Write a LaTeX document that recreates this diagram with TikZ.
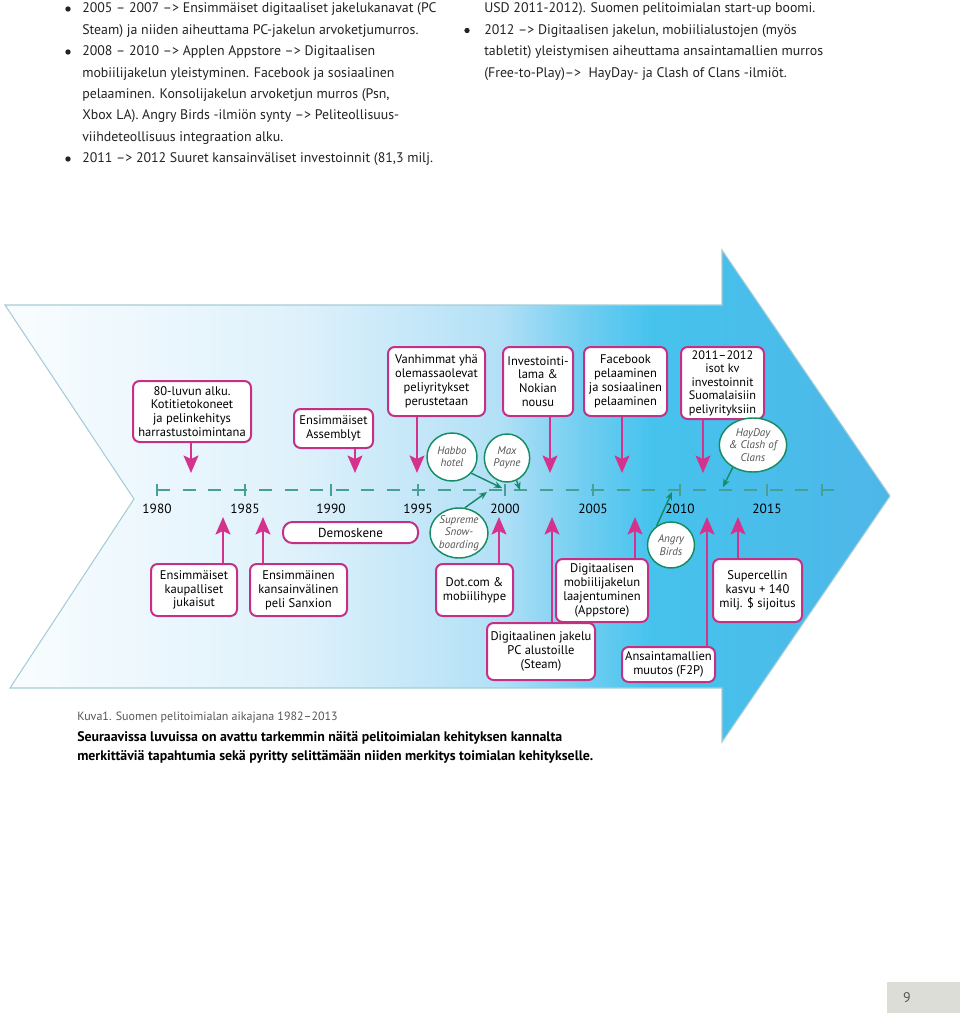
\documentclass[tikz,border=0pt]{standalone}
\usepackage{fontspec}
\setmainfont{PT Sans}
\usetikzlibrary{arrows.meta,shapes.geometric}
\definecolor{mag}{RGB}{196,48,134}
\definecolor{magarr}{RGB}{212,50,140}
\definecolor{grn}{RGB}{22,140,100}
\definecolor{axisc}{RGB}{70,160,150}
\definecolor{outl}{RGB}{165,205,215}
\definecolor{txtgray}{RGB}{85,85,85}
\definecolor{bodytxt}{RGB}{35,35,35}
\definecolor{pagegray}{RGB}{221,221,216}
\definecolor{ca}{RGB}{250,253,255}
\definecolor{cb}{RGB}{222,241,251}
\definecolor{cc}{RGB}{178,224,246}
\definecolor{cd}{RGB}{115,206,241}
\definecolor{ce}{RGB}{70,195,237}
\definecolor{cf}{RGB}{78,182,232}
\tikzset{
  pbox/.style={draw=mag, line width=1.5pt, rounded corners=5pt, fill=white, align=center, inner sep=0pt, font=\fontsize{9.4}{10.4}\selectfont, text=black},
  gcirc/.style={ellipse, draw=grn, line width=1.1pt, fill=white, align=center, inner sep=0pt, font=\fontsize{8.3}{9.2}\selectfont\itshape, text=txtgray},
  parr/.style={draw=magarr, line width=2.2pt, -{Stealth[length=13pt,width=11pt,inset=2.5pt]}},
  garr/.style={draw=grn, line width=1.1pt, -{Stealth[length=6pt,width=5pt]}},
  axisline/.style={draw=axisc, line width=0.9pt, dash pattern=on 9.75pt off 9.4pt},
  tickmark/.style={draw=axisc, line width=0.8pt},
  yearlbl/.style={font=\fontsize{10}{11}\selectfont, text=black, inner sep=0pt},
  toptext/.style={anchor=base west, inner sep=0pt, font=\fontsize{10.4}{12}\selectfont, text=bodytxt},
  bulletdot/.style={fill=bodytxt, draw=none, circle, inner sep=0pt, minimum size=4pt},
  captxt/.style={anchor=base west, inner sep=0pt, font=\fontsize{9}{11}\selectfont, text=txtgray},
  boldtxt/.style={anchor=base west, inner sep=0pt, font=\fontsize{10.4}{12}\selectfont\bfseries, text=black}
}
\begin{document}
\begin{tikzpicture}[x=0.75pt,y=-0.75pt]
\useasboundingbox (0,0) rectangle (960,1013);
\fill[white] (0,0) rectangle (960,1013);

% big arrow
\begin{scope}
\clip (5,305) -- (722,305) -- (722,250) -- (890,496) -- (722,742) -- (722,688) -- (10,688) -- (134,499) -- cycle;
\shade[left color=ca,right color=cb] (0,240) rectangle (301,750);
\shade[left color=cb,right color=cc] (300,240) rectangle (501,750);
\shade[left color=cc,right color=cd] (500,240) rectangle (581,750);
\shade[left color=cd,right color=ce] (580,240) rectangle (651,750);
\shade[left color=ce,right color=cf] (650,240) rectangle (900,750);
\end{scope}
\draw[outl, line width=0.8pt] (5,305) -- (722,305) -- (722,250) -- (890,496) -- (722,742) -- (722,688) -- (10,688) -- (134,499) -- cycle;

% top text
\node[bulletdot] (b1) at (68,9) {};
\node[toptext] (l1) at (82,13) {2005 – 2007 –> Ensimmäiset digitaaliset jakelukanavat (PC};
\node[toptext] (l2) at (82,34.4) {Steam) ja niiden aiheuttama PC-jakelun arvoketjumurros.};
\node[bulletdot] (b2) at (68,52) {};
\node[toptext] (l3) at (82,55.8) {2008 – 2010 –> Applen Appstore –> Digitaalisen};
\node[toptext] (l4) at (82,77.2) {mobiilijakelun yleistyminen. Facebook ja sosiaalinen};
\node[toptext] (l5) at (82,98.6) {pelaaminen. Konsolijakelun arvoketjun murros (Psn,};
\node[toptext] (l6) at (82,120) {Xbox LA). Angry Birds -ilmiön synty –> Peliteollisuus-};
\node[toptext] (l7) at (82,141.4) {viihdeteollisuus integraation alku.};
\node[bulletdot] (b3) at (68,159) {};
\node[toptext] (l8) at (82,162.8) {2011 –> 2012 Suuret kansainväliset investoinnit (81,3 milj.};

\node[toptext] (r1) at (484,13) {USD 2011-2012). Suomen pelitoimialan start-up boomi.};
\node[bulletdot] (b4) at (467,30.5) {};
\node[toptext] (r2) at (484,34.4) {2012 –> Digitaalisen jakelun, mobiilialustojen (myös};
\node[toptext] (r3) at (484,55.8) {tabletit) yleistymisen aiheuttama ansaintamallien murros};
\node[toptext] (r4) at (484,77.2) {(Free-to-Play)–>\ \ HayDay- ja Clash of Clans -ilmiöt.};

% axis
\draw[axisline] (157,490) -- (838,490);
\foreach \xx in {157,245,331,418,505,593,680,767,822}
  \draw[tickmark] (\xx,484) -- (\xx,496);
\node[yearlbl] (y1980) at (157,509) {1980};
\node[yearlbl] (y1985) at (245,509) {1985};
\node[yearlbl] (y1990) at (331,509) {1990};
\node[yearlbl] (y1995) at (418,509) {1995};
\node[yearlbl] (y2000) at (505,509) {2000};
\node[yearlbl] (y2005) at (593,509) {2005};
\node[yearlbl] (y2010) at (680,509) {2010};
\node[yearlbl] (y2015) at (767,509) {2015};

% arrow tip coordinates
\coordinate (tA) at (191,473);
\coordinate (tB) at (355,473);
\coordinate (tC) at (417,473);
\coordinate (tD) at (550,473);
\coordinate (tE) at (622,473);
\coordinate (tF) at (703,473);
\coordinate (tG) at (223,517);
\coordinate (tH) at (263,517);
\coordinate (tI) at (499,517);
\coordinate (tJ) at (635,517);
\coordinate (tK) at (738,517);
\coordinate (tL) at (552,517);
\coordinate (tM) at (707,517);

% upper boxes
\node[pbox, minimum width=88.5pt, minimum height=45.75pt] (A) at (192,411.5) {80-luvun alku.\\Kotitietokoneet\\ja pelinkehitys\\harrastustoimintana};
\node[pbox, minimum width=59.25pt, minimum height=29.25pt] (B) at (333.5,428.5) {Ensimmäiset\\Assemblyt};
\node[pbox, minimum width=72.75pt, minimum height=51.75pt] (C) at (436.5,381.5) {Vanhimmat yhä\\olemassaolevat\\peliyritykset\\perustetaan};
\node[pbox, minimum width=52.5pt, minimum height=51.75pt] (D) at (538,381.5) {Investointi-\\lama \&\\Nokian\\nousu};
\node[pbox, minimum width=62.25pt, minimum height=51.75pt] (E) at (625.5,381.5) {Facebook\\pelaaminen\\ja sosiaalinen\\pelaaminen};
\node[pbox, minimum width=62.25pt, minimum height=54pt, font=\fontsize{9.2}{10.1}\selectfont] (F) at (722.5,383) {2011–2012\\isot kv\\investoinnit\\Suomalaisiin\\peliyrityksiin};

% lower boxes
\node[pbox, rounded corners=7pt, minimum width=101.25pt, minimum height=15.75pt, font=\fontsize{9.8}{10.5}\selectfont] (Demo) at (350.5,532.5) {Demoskene};
\node[pbox, minimum width=64.5pt, minimum height=39pt] (G) at (194,590) {Ensimmäiset\\kaupalliset\\jukaisut};
\node[pbox, minimum width=72.75pt, minimum height=39pt] (H) at (298.5,590) {Ensimmäinen\\kansainvälinen\\peli Sanxion};
\node[pbox, minimum width=57.75pt, minimum height=39pt] (I) at (474.5,590) {Dot.com \&\\mobiilihype};
\node[pbox, minimum width=69pt, minimum height=47.25pt] (J) at (602,590.5) {Digitaalisen\\mobiilijakelun\\laajentuminen\\(Appstore)};
\node[pbox, minimum width=66.75pt, minimum height=47.25pt] (K) at (757.5,590.5) {Supercellin\\kasvu + 140\\milj. \$ sijoitus};
\node[pbox, minimum width=81pt, minimum height=42.75pt] (L) at (541,651.5) {Digitaalinen jakelu\\PC alustoille\\(Steam)};
\node[pbox, minimum width=69.75pt, minimum height=26.25pt] (M) at (668.5,664.5) {Ansaintamallien\\muutos (F2P)};

% magenta arrows
\draw[parr] (A.south -| tA) -- (tA);
\draw[parr] (B.south -| tB) -- (tB);
\draw[parr] (C.south -| tC) -- (tC);
\draw[parr] (D.south -| tD) -- (tD);
\draw[parr] (E.south -| tE) -- (tE);
\draw[parr] (F.south -| tF) -- (tF);
\draw[parr] (G.north -| tG) -- (tG);
\draw[parr] (H.north -| tH) -- (tH);
\draw[parr] (I.north -| tI) -- (tI);
\draw[parr] (J.north -| tJ) -- (tJ);
\draw[parr] (K.north -| tK) -- (tK);
\draw[parr] (L.north -| tL) -- (tL);
\draw[parr] (M.north -| tM) -- (tM);

% green circles
\node[gcirc, minimum width=37.5pt, minimum height=36pt] (habbo) at (452,457) {Habbo\\hotel};
\node[gcirc, minimum width=34pt, minimum height=36pt] (max) at (507,458) {Max\\Payne};
\node[gcirc, minimum width=43.5pt, minimum height=37.5pt] (supreme) at (459,533) {Supreme\\Snow-\\boarding};
\node[gcirc, minimum width=35.25pt, minimum height=34.5pt] (angry) at (671,545) {Angry\\Birds};
\node[gcirc, minimum width=45pt, minimum height=40.5pt] (hay) at (753,445) {HayDay\\\& Clash of\\Clans};

\coordinate (gHabbo) at (502,488);
\coordinate (gMax) at (520,490);
\coordinate (gSup) at (487,492);
\coordinate (gAngry) at (672,492);
\coordinate (gHay) at (723,487);
\draw[garr] (habbo.320) -- (gHabbo);
\draw[garr] (max.293) -- (gMax);
\draw[garr] (supreme.77) -- (gSup);
\draw[garr] (angry.127) -- (gAngry);
\draw[garr] (hay.228) -- (gHay);

% caption
\node[captxt] (cap) at (77,720) {Kuva1. Suomen pelitoimialan aikajana 1982–2013};
\node[boldtxt] (bt1) at (77,741) {Seuraavissa luvuissa on avattu tarkemmin näitä pelitoimialan kehityksen kannalta};
\node[boldtxt] (bt2) at (77,760) {merkittäviä tapahtumia sekä pyritty selittämään niiden merkitys toimialan kehitykselle.};

% page number
\fill[pagegray] (887,982) rectangle (960,1013);
\node[inner sep=0pt, font=\fontsize{10.5}{12}\selectfont, text=txtgray] (pnum) at (907,998) {9};
\end{tikzpicture}
\end{document}
